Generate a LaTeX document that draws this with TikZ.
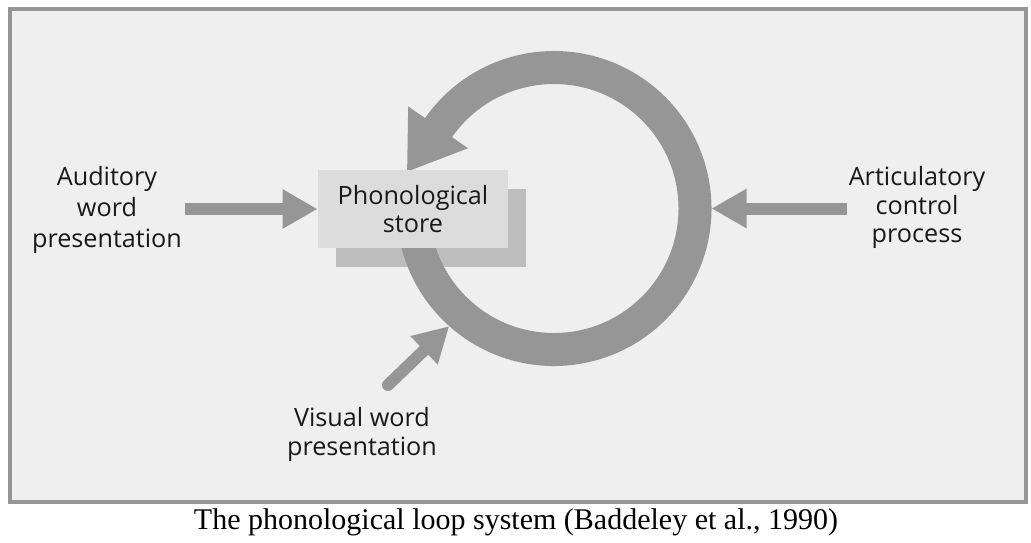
\documentclass[tikz,border=0pt]{standalone}
\usepackage{fontspec}
\setmainfont{Liberation Serif}
\newfontfamily\diagfont{Open Sans}
\usetikzlibrary{positioning,arrows.meta,calc}
\definecolor{loopgray}{HTML}{969696}
\definecolor{framegray}{HTML}{959595}
\definecolor{panelgray}{HTML}{EFEFEF}
\definecolor{storegray}{HTML}{DCDCDC}
\definecolor{shadegray}{HTML}{BDBDBD}

\begin{document}
\begin{tikzpicture}[
    x=0.5pt, y=-0.5pt,
    lbl/.style={font=\diagfont\fontsize{12.6}{15.5}\selectfont, align=center,
                inner sep=0pt, text=black!90},
    storebox/.style={rectangle, inner sep=0pt, minimum width=95pt,
                     minimum height=39pt},
    feed/.style={-{Triangle[length=17.5pt, width=18.5pt]}, line width=6pt,
                 draw=loopgray},
    caption/.style={font=\fontsize{15}{17}\selectfont, inner sep=0pt}
  ]
  \useasboundingbox (0,0) rectangle (1031,542);
  % ----- panel -----
  \draw[line width=2pt, draw=framegray, fill=panelgray] (10,9) rectangle (1026,502);

  % ----- store with its shadow, loop behind the store -----
  \node[storebox, fill=shadegray] (shade) at (431,228) {};
  \coordinate (loop) at (554,208.5);
  \fill[loopgray]
    ($(loop)+(-145:157.5)$) arc[start angle=-145, end angle=180, radius=157.5]
    -- ($(loop)+(180:124.5)$) arc[start angle=180, end angle=-145, radius=124.5]
    -- cycle
    ($(loop)+(-145:178)$) -- ($(loop)+(-145:141.5)+(125:54)$)
    -- ($(loop)+(-145:105)$) -- cycle;
  \node[storebox, fill=storegray] (store) at (413,209) {};
  \node[lbl, font=\diagfont\fontsize{12.6}{14}\selectfont] (storetxt) at (413,209.5)
    {Phonological\\store};

  % ----- inputs -----
  \node[lbl] (aud) at (107,209.5) {Auditory\\word\\presentation};
  \node[lbl, font=\diagfont\fontsize{12.6}{14.3}\selectfont] (art) at (917,207.5)
    {Articulatory\\control\\process};
  \node[lbl, font=\diagfont\fontsize{12.6}{14.5}\selectfont] (vis) at (362,434.5)
    {Visual word\\presentation};

  \coordinate (audstart) at (185,209);
  \coordinate (artstart) at (847,208.5);
  \coordinate (visstart) at (388,385);
  \coordinate (ringE) at ($(loop)+(0:157.5)$);
  \coordinate (ringSW) at ($(loop)+(131.7:157.5)$);
  \draw[feed] (audstart) -- (store.west);
  \draw[feed] (artstart) -- (ringE);
  \draw[feed, line cap=round] (visstart) -- (ringSW);

  % ----- caption -----
  \node[caption, anchor=base] (cap) at (516,529)
    {The phonological loop system (Baddeley et al., 1990)};
\end{tikzpicture}
\end{document}
